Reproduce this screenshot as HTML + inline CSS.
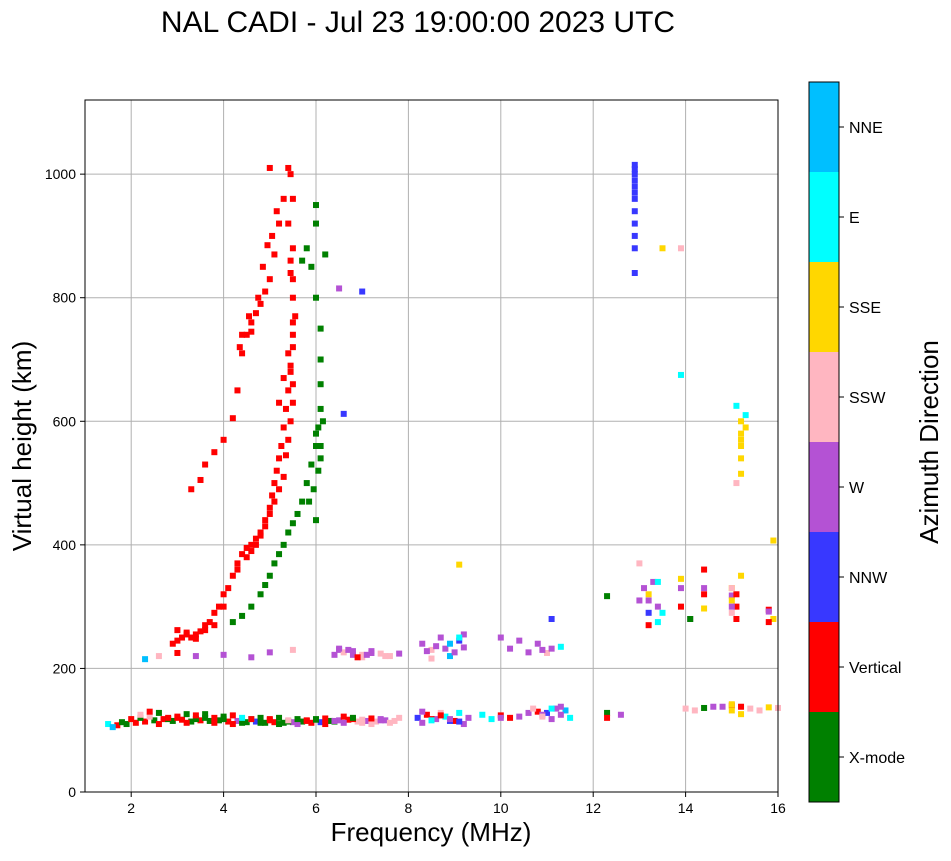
<!DOCTYPE html>
<html><head><meta charset="utf-8"><style>
body{margin:0;background:#fff;font-family:"Liberation Sans",sans-serif}
svg text{font-family:"Liberation Sans",sans-serif}
</style></head><body>
<svg id="c" width="951" height="856">
<text x="418" y="32" font-size="30" text-anchor="middle">NAL CADI - Jul 23 19:00:00 2023 UTC</text>
<g id="grid"></g><g id="marks"></g><g id="axes"></g>
<rect x="85" y="100" width="693" height="692" fill="none" stroke="#000" stroke-width="1"/>
<text x="431" y="841" font-size="26" text-anchor="middle">Frequency (MHz)</text>
<text transform="translate(31,446) rotate(-90)" font-size="26" text-anchor="middle">Virtual height (km)</text>
<g id="cbar"></g>
<text transform="translate(938,442) rotate(-90)" font-size="26" text-anchor="middle">Azimuth Direction</text>
</svg>
<script>
const dirLabels=["X-mode","Vertical","NNW","W","SSW","SSE","E","NNE"];
const dirColors=["#008000","#ff0000","#3838ff","#b452d4","#ffb6c1","#ffd700","#00ffff","#00bfff"];
const xTicks=[2,4,6,8,10,12,14,16];
const yTicks=[0,200,400,600,800,1000];
const freqs=[
2.9,3.0,3.1,3.2,3.3,3.4,3.5,3.6,3.7,3.8,3.9,4.0,4.1,4.2,4.3,4.4,4.5,4.6,4.7,4.8,4.9,5.0,5.05,5.1,5.15,5.2,5.25,5.3,5.35,5.4,5.45,5.5,5.5,5.5,5.45,5.5,5.4,5.5,5.45,5.4,
3.0,3.2,3.4,3.6,3.8,4.0,4.3,4.5,4.6,4.7,4.8,4.9,5.0,5.1,5.2,5.3,5.35,5.4,5.45,5.5,5.5,5.45,5.4,5.5,5.55,5.5,5.45,5.3,5.2,
3.3,3.5,3.6,3.8,4.0,4.2,4.3,4.4,4.5,4.6,4.7,4.8,4.9,5.0,5.1,5.2,5.3,5.0,4.6,4.4,4.35,4.55,4.75,4.85,4.95,5.05,5.15,
4.2,4.4,4.6,4.8,4.9,5.0,5.1,5.2,5.3,5.4,5.5,5.6,5.7,5.8,5.9,6.0,6.05,6.1,6.1,6.1,6.1,6.0,5.9,5.8,6.0,6.0,5.7,6.2,6.0,6.1,6.05,5.95,5.85,6.15,6.1,6.0,
1.5,1.7,1.9,2.1,2.3,2.5,2.7,2.9,3.1,3.3,3.5,3.7,3.9,4.1,4.3,4.5,4.7,4.9,5.1,5.3,5.5,5.7,5.9,6.1,6.3,6.5,6.7,6.9,7.1,7.3,7.5,7.7,8.2,8.4,8.6,8.8,9.0,9.2,9.6,10.0,10.4,10.8,11.0,11.2,11.4,12.3,12.6,14.0,14.4,14.8,15.0,15.4,15.8,
1.6,1.8,2.0,2.2,2.4,2.6,2.8,3.0,3.2,3.4,3.6,3.8,4.0,4.2,4.4,4.6,4.8,5.0,5.2,5.4,5.6,5.8,6.0,6.2,6.4,6.6,6.8,7.0,7.2,7.4,7.6,7.8,8.3,8.5,8.7,8.9,9.1,9.3,9.8,10.2,10.6,10.9,11.1,11.3,11.5,12.3,14.2,14.6,15.0,15.2,15.6,16.0,
2.2,2.4,2.6,2.8,3.0,3.2,3.4,3.6,3.8,4.0,4.2,4.4,4.6,4.8,5.0,5.2,5.4,5.6,5.8,6.0,6.2,6.4,6.6,6.8,7.0,7.2,7.4,8.3,8.5,8.7,8.9,9.1,10.0,10.7,10.9,11.1,11.3,15.0,15.2,
2.3,2.6,3.0,3.4,4.0,4.6,5.0,5.5,6.5,6.8,7.0,7.2,7.5,7.8,8.3,8.5,8.7,8.9,9.1,9.2,10.0,10.4,10.8,11.0,11.3,11.1,
6.4,6.6,6.8,7.0,7.2,7.4,7.6,8.4,8.6,8.8,9.0,9.2,10.2,10.6,10.9,11.1,6.5,6.7,6.9,7.1,8.5,8.9,9.1,
12.9,12.9,12.9,12.9,12.9,12.9,12.9,12.9,12.9,12.9,12.9,12.9,13.5,13.9,
15.1,15.2,15.2,15.2,15.2,15.2,15.1,15.3,15.3,15.2,
13.0,13.2,13.3,13.5,13.9,14.1,14.4,15.0,15.1,15.0,15.2,15.8,15.9,13.0,13.2,12.3,14.4,15.0,9.1,6.6,7.0,6.5,13.1,13.9,15.9,
15.0,15.1,15.0,15.1,15.0,13.9,14.1,13.4,13.4,13.2,13.2,13.4,14.4,14.4,13.9,15.8,15.8
];
const heights=[
240,245,250,255,250,255,260,270,275,290,300,320,330,350,370,385,395,400,410,420,440,460,480,500,520,540,560,590,620,650,680,720,760,800,840,880,920,960,1000,1010,
262,258,248,262,270,300,360,380,390,400,415,430,450,470,490,510,545,570,600,630,660,690,710,740,770,830,860,670,630,
490,505,530,550,570,605,650,710,740,760,775,790,810,830,870,920,960,1010,745,740,720,770,800,850,885,900,940,
275,285,300,320,335,350,370,385,400,420,435,450,470,500,530,560,590,620,660,700,750,800,850,880,920,950,860,870,580,560,520,490,470,600,540,440,
110,108,110,112,114,116,118,115,117,114,116,115,116,114,115,113,114,112,113,112,113,114,112,113,115,116,117,114,115,114,116,115,120,125,118,122,115,110,125,124,122,130,128,135,132,128,125,135,136,138,140,135,137,
105,113,118,120,122,110,118,120,112,118,120,112,118,110,112,118,112,116,110,114,110,116,118,110,114,112,118,112,110,118,112,120,112,118,128,115,128,120,118,120,128,125,135,125,120,120,132,138,132,138,132,136,
125,130,128,120,122,126,124,126,120,122,124,120,118,120,118,120,116,118,115,117,119,115,122,120,117,119,116,130,116,124,118,114,120,135,122,118,138,142,126,
215,220,225,220,222,218,226,230,230,228,222,225,220,224,240,230,250,220,245,255,250,245,240,225,235,280,
222,226,222,218,228,224,220,228,236,232,226,234,232,226,230,232,232,230,218,222,216,240,250,
1015,1000,980,960,940,920,900,880,1008,990,970,840,880,880,
625,600,580,560,540,515,500,610,590,570,
310,320,340,290,300,280,320,330,300,290,350,295,280,370,270,317,297,318,368,612,810,815,330,675,407,
310,320,330,280,300,330,280,340,300,310,290,275,330,360,345,275,292
];
const dirs=[
1,1,1,1,1,1,1,1,1,1,1,1,1,1,1,1,1,1,1,1,1,1,1,1,1,1,1,1,1,1,1,1,1,1,1,1,1,1,1,1,
1,1,1,1,1,1,1,1,1,1,1,1,1,1,1,1,1,1,1,1,1,1,1,1,1,1,1,1,1,
1,1,1,1,1,1,1,1,1,1,1,1,1,1,1,1,1,1,1,1,1,1,1,1,1,1,1,
0,0,0,0,0,0,0,0,0,0,0,0,0,0,0,0,0,0,0,0,0,0,0,0,0,0,0,0,0,0,0,0,0,0,0,0,
6,1,0,1,1,0,1,0,1,0,1,0,0,1,3,0,2,0,1,0,3,0,1,2,0,3,1,4,3,4,3,4,2,1,3,6,1,3,6,1,3,1,2,3,7,0,3,4,0,3,1,4,5,
7,0,1,0,4,1,0,1,1,0,0,1,0,1,0,6,0,1,0,0,3,1,0,1,0,3,1,4,4,3,4,4,3,1,4,2,6,3,6,1,3,3,6,3,6,1,4,3,5,1,4,4,
4,1,0,1,1,0,1,0,1,0,1,6,1,0,1,0,4,0,1,0,1,3,1,0,4,1,3,3,6,1,3,2,3,4,4,3,3,5,5,
7,4,1,3,3,3,3,4,3,3,4,3,4,3,3,4,3,7,2,3,3,3,3,4,6,2,
3,4,3,4,3,4,4,3,3,3,3,3,3,3,3,3,3,3,1,3,4,7,6,
2,2,2,2,2,2,2,2,2,2,2,2,5,4,
6,5,5,5,5,5,4,6,5,5,
3,5,3,6,1,3,1,5,1,4,5,1,5,4,1,0,5,3,5,2,2,3,3,6,5,
5,1,4,1,3,3,0,6,3,3,2,6,3,1,5,1,3
];
const SVGNS="http://www.w3.org/2000/svg";
const X=f=>85+(f-1)*693/15;
const Y=h=>792-h*692/1120;
function el(t,a,parent){const e=document.createElementNS(SVGNS,t);for(const k in a)e.setAttribute(k,a[k]);document.getElementById(parent).appendChild(e);return e;}
xTicks.forEach(t=>{
 const g=el("line",{x1:X(t),x2:X(t),y1:100,y2:792,stroke:"#b0b0b0","stroke-width":1},"grid");
 
 
 el("line",{x1:X(t),x2:X(t),y1:792,y2:797,stroke:"#000"},"axes");
 const tx=el("text",{x:X(t),y:813,"font-size":14,"text-anchor":"middle"},"axes");tx.textContent=t;
 
 
});
yTicks.forEach(t=>{
 const g=el("line",{x1:85,x2:778,y1:Y(t),y2:Y(t),stroke:"#b0b0b0","stroke-width":1},"grid");
 
 
 el("line",{x1:80,x2:85,y1:Y(t),y2:Y(t),stroke:"#000"},"axes");
 const tx=el("text",{x:76,y:Y(t)+5,"font-size":14,"text-anchor":"end"},"axes");tx.textContent=t;
 
 
});
for(let i=0;i<freqs.length;i++){
 const r=el("rect",{x:X(freqs[i])-3,y:Y(heights[i])-3,width:6,height:6,fill:dirColors[dirs[i]]},"marks");
 
 
}
dirLabels.forEach((l,i)=>{
 const y0=802-(i+1)*90;
 const r=el("rect",{x:809,y:y0,width:30,height:90,fill:dirColors[i]},"cbar");
 
 
 el("line",{x1:839,x2:844,y1:y0+45,y2:y0+45,stroke:"#000"},"cbar");
 const t=el("text",{x:849,y:y0+51,"font-size":16},"cbar");t.textContent=l;
 
 
});
el("rect",{x:809,y:82,width:30,height:720,fill:"none",stroke:"#000"},"cbar");
</script>
</body></html>
